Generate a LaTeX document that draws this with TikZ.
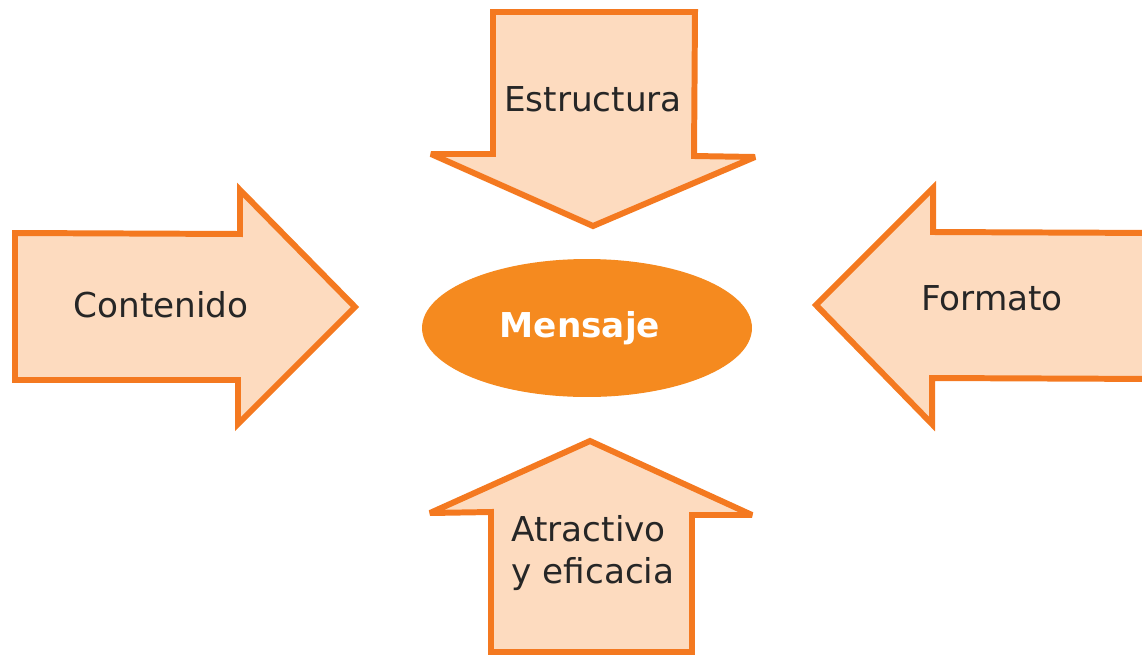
\documentclass[tikz,border=0pt]{standalone}
\usepackage{fontspec}
\setmainfont{DejaVu Sans}
\usepackage{xcolor}
\usetikzlibrary{shapes,positioning}
\definecolor{arrowline}{HTML}{F47920}
\definecolor{arrowfill}{HTML}{FDDBBF}
\definecolor{msgfill}{HTML}{F58A1F}

\begin{document}
\begin{tikzpicture}[x=0.02cm,y=-0.02cm,
    block/.style={draw=arrowline,fill=arrowfill,line width=3.4pt,line join=miter,miter limit=3},
    word/.style={font=\fontsize{19.5}{23.5}\selectfont,text=black!85}]
    \useasboundingbox (0,0) rectangle (1142,656);
    \clip (0,0) rectangle (1142,656);
    % Arrows
    \draw[block] (493,12) -- (695,12) -- (694,156) -- (755,157) -- (593,226) -- (431,154) -- (493,154) -- cycle; % Estructura
    \draw[block] (15,233) -- (240,234) -- (240,190) -- (355,307) -- (238,424) -- (238,380) -- (15,380) -- cycle; % Contenido
    \draw[block] (1160,233) -- (933,232) -- (933,188) -- (816,305) -- (932,424) -- (932,378) -- (1160,379) -- cycle; % Formato
    \draw[block] (491,652) -- (491,512) -- (430,513) -- (590,441) -- (752,515) -- (692,515) -- (692,652) -- cycle; % Atractivo

    % Center
    \node[ellipse,fill=msgfill,minimum width=6.6cm,minimum height=2.76cm] (mensaje) at (587,328) {};
    \node[text=white,font=\bfseries\fontsize{19.5}{23.5}\selectfont] (mensajetext) at (580,328) {Mensaje};

    % Labels
    \node[word] (estructura) at (593,99) {Estructura};
    \node[word] (contenido) at (161,305) {Contenido};
    \node[word] (formato) at (992,298) {Formato};
    \node[word,align=left] (atractivo) at (593,553) {Atractivo\\y eficacia};
\end{tikzpicture}
\end{document}
